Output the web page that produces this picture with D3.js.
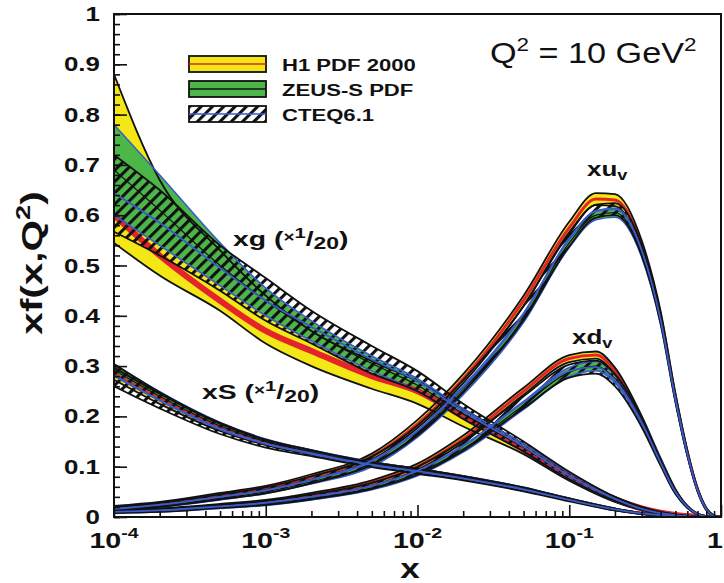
<!DOCTYPE html>
<meta charset="utf-8">
<script src="https://d3js.org/d3.v7.min.js"></script>
<style>
  body { margin: 0; background: #fff; }
  text { font-family: "Liberation Sans", Arial, sans-serif; font-weight: bold; fill: #111; }
</style>
<div id="chart"></div>
<script>
    // x grids (log x)
    var xLow = [1e-4, 2e-4, 5e-4, 1e-3, 2e-3, 5e-3, 1e-2, 2e-2, 5e-2, 0.1, 0.2, 0.3, 0.5, 0.7];
    var xVal = [1e-4, 2e-4, 5e-4, 1e-3, 2e-3, 5e-3, 1e-2, 2e-2, 5e-2, 0.1, 0.15, 0.2, 0.3, 0.4, 0.5, 0.6, 0.7, 0.8, 0.9, 1];

    // gluon xg/20 : lower, central, upper
    var gH1Lo   = [0.545, 0.48, 0.41, 0.345, 0.30, 0.255, 0.225, 0.18, 0.125, 0.072, 0.03, 0.014, 0.003, 0];
    var gH1Mid  = [0.60, 0.52, 0.43, 0.37, 0.33, 0.28, 0.25, 0.20, 0.135, 0.08, 0.035, 0.017, 0.004, 0.0005];
    var gH1Hi   = [0.88, 0.67, 0.53, 0.44, 0.37, 0.31, 0.27, 0.215, 0.145, 0.088, 0.04, 0.02, 0.005, 0.001];
    var gZeusLo  = [0.60, 0.54, 0.46, 0.40, 0.35, 0.29, 0.25, 0.195, 0.13, 0.076, 0.032, 0.014, 0.003, 0];
    var gZeusMid = [0.69, 0.61, 0.50, 0.43, 0.37, 0.305, 0.262, 0.205, 0.138, 0.082, 0.035, 0.016, 0.0035, 0];
    var gZeusHi  = [0.78, 0.68, 0.545, 0.455, 0.39, 0.32, 0.275, 0.215, 0.145, 0.088, 0.038, 0.018, 0.004, 0];
    var gCteqLo  = [0.567, 0.52, 0.45, 0.39, 0.345, 0.285, 0.25, 0.195, 0.13, 0.075, 0.032, 0.014, 0.003, 0];
    var gCteqMid = [0.644, 0.585, 0.495, 0.43, 0.378, 0.313, 0.27, 0.21, 0.14, 0.082, 0.036, 0.016, 0.0035, 0];
    var gCteqHi  = [0.72, 0.65, 0.54, 0.475, 0.41, 0.34, 0.29, 0.225, 0.15, 0.09, 0.04, 0.019, 0.004, 0];

    // sea xS/20 : central and error
    var sH1Mid   = [0.285, 0.235, 0.178, 0.148, 0.128, 0.105, 0.092, 0.078, 0.055, 0.035, 0.015, 0.007, 0.002, 0];
    var sH1Err   = [0.012, 0.01, 0.007, 0.005, 0.004, 0.004, 0.004, 0.003, 0.003, 0.002, 0.002, 0.001, 0.001, 0];
    var sZeusMid = [0.292, 0.24, 0.181, 0.15, 0.129, 0.106, 0.093, 0.079, 0.056, 0.035, 0.015, 0.007, 0.002, 0];
    var sZeusErr = [0.012, 0.009, 0.007, 0.005, 0.004, 0.004, 0.003, 0.003, 0.003, 0.002, 0.002, 0.001, 0.001, 0];
    var sCteqMid = [0.282, 0.232, 0.176, 0.146, 0.127, 0.104, 0.091, 0.077, 0.055, 0.034, 0.015, 0.007, 0.002, 0];
    var sCteqErr = [0.022, 0.016, 0.011, 0.008, 0.006, 0.005, 0.005, 0.004, 0.004, 0.003, 0.002, 0.001, 0.001, 0];

    // u valence
    var uH1Mid   = [0.019, 0.027, 0.044, 0.058, 0.08, 0.12, 0.185, 0.275, 0.43, 0.575, 0.632, 0.63, 0.54, 0.4, 0.24, 0.128, 0.055, 0.016, 0.002, 0];
    var uH1Err   = [0.003, 0.003, 0.004, 0.004, 0.005, 0.006, 0.008, 0.009, 0.01, 0.012, 0.012, 0.012, 0.01, 0.009, 0.007, 0.005, 0.003, 0.002, 0.001, 0];
    var uZeusMid = [0.015, 0.022, 0.037, 0.05, 0.07, 0.105, 0.165, 0.25, 0.395, 0.545, 0.6, 0.605, 0.525, 0.39, 0.235, 0.125, 0.054, 0.016, 0.002, 0];
    var uZeusErr = [0.002, 0.002, 0.003, 0.003, 0.004, 0.005, 0.006, 0.007, 0.008, 0.009, 0.009, 0.009, 0.008, 0.007, 0.006, 0.004, 0.003, 0.002, 0.001, 0];
    var uCteqMid = [0.016, 0.024, 0.04, 0.053, 0.074, 0.112, 0.172, 0.26, 0.405, 0.552, 0.608, 0.612, 0.53, 0.392, 0.236, 0.126, 0.054, 0.016, 0.002, 0];
    var uCteqErr = [0.003, 0.004, 0.005, 0.006, 0.007, 0.008, 0.01, 0.012, 0.014, 0.014, 0.013, 0.012, 0.01, 0.008, 0.006, 0.004, 0.003, 0.002, 0.001, 0];

    // d valence
    var dH1Mid   = [0.011, 0.015, 0.023, 0.031, 0.044, 0.068, 0.1, 0.155, 0.25, 0.315, 0.322, 0.29, 0.195, 0.112, 0.052, 0.02, 0.006, 0.001, 0, 0];
    var dH1Err   = [0.002, 0.002, 0.003, 0.003, 0.004, 0.005, 0.006, 0.007, 0.007, 0.007, 0.007, 0.007, 0.006, 0.005, 0.004, 0.002, 0.001, 0.001, 0, 0];
    var dZeusMid = [0.009, 0.012, 0.019, 0.026, 0.037, 0.058, 0.087, 0.135, 0.222, 0.288, 0.3, 0.275, 0.19, 0.11, 0.05, 0.02, 0.006, 0.001, 0, 0];
    var dZeusErr = [0.002, 0.002, 0.002, 0.003, 0.003, 0.004, 0.005, 0.006, 0.008, 0.009, 0.009, 0.008, 0.006, 0.005, 0.003, 0.002, 0.001, 0.001, 0, 0];
    var dCteqMid = [0.01, 0.013, 0.021, 0.028, 0.04, 0.062, 0.092, 0.142, 0.228, 0.29, 0.298, 0.272, 0.188, 0.108, 0.05, 0.02, 0.006, 0.001, 0, 0];
    var dCteqErr = [0.002, 0.003, 0.003, 0.004, 0.005, 0.006, 0.008, 0.01, 0.012, 0.013, 0.013, 0.012, 0.009, 0.006, 0.004, 0.002, 0.001, 0.001, 0, 0];

    var yTicks = [0, 0.1, 0.2, 0.3, 0.4, 0.5, 0.6, 0.7, 0.8, 0.9, 1];
    var yTickLabels = ["0", "0.1", "0.2", "0.3", "0.4", "0.5", "0.6", "0.7", "0.8", "0.9", "1"];
    var xTicks = [1e-4, 1e-3, 1e-2, 1e-1, 1];
    var xTickExp = ["-4", "-3", "-2", "-1", ""];
    var legendNames = ["H1 PDF 2000", "ZEUS-S PDF", "CTEQ6.1"];

    var width = 724, height = 583;
    var plot = {left: 114, right: 721, top: 14, bottom: 517};

    var x = d3.scaleLog().domain([1e-4, 1]).range([plot.left, plot.right]);
    var y = d3.scaleLinear().domain([0, 1]).range([plot.bottom, plot.top]);

    var svg = d3.select("#chart").append("svg")
        .attr("width", width)
        .attr("height", height);

    svg.append("rect").attr("width", width).attr("height", height).attr("fill", "white");

    var defs = svg.append("defs");
    defs.append("clipPath").attr("id", "clip").append("rect")
        .attr("x", plot.left).attr("y", plot.top)
        .attr("width", plot.right - plot.left).attr("height", plot.bottom - plot.top);

    var hatch = defs.append("pattern")
        .attr("id", "hatch")
        .attr("patternUnits", "userSpaceOnUse")
        .attr("width", 8).attr("height", 8)
        .attr("patternTransform", "rotate(45)");
    hatch.append("line")
        .attr("x1", 1.5).attr("y1", 0).attr("x2", 1.5).attr("y2", 8)
        .attr("stroke", "#111").attr("stroke-width", 3.2);

    var colors = {yellow: "#f3e816", green: "#4cb748", red: "#e5232a", blue: "#3a5cc8"};

    function band(xs, lo, mid, hi) {
        return xs.map(function(v, i) { return {x: v, lo: lo[i], mid: mid[i], hi: hi[i]}; });
    }
    function bandErr(xs, mid, err) {
        return xs.map(function(v, i) { return {x: v, lo: Math.max(0, mid[i] - err[i]), mid: mid[i], hi: mid[i] + err[i]}; });
    }

    var h1 = [
        {data: band(xLow, gH1Lo, gH1Mid, gH1Hi), w: 6},
        {data: bandErr(xLow, sH1Mid, sH1Err), w: 3},
        {data: bandErr(xVal, uH1Mid, uH1Err), w: 3},
        {data: bandErr(xVal, dH1Mid, dH1Err), w: 3}
    ];
    var zeus = [
        {data: band(xLow, gZeusLo, gZeusMid, gZeusHi)},
        {data: bandErr(xLow, sZeusMid, sZeusErr)},
        {data: bandErr(xVal, uZeusMid, uZeusErr)},
        {data: bandErr(xVal, dZeusMid, dZeusErr)}
    ];
    var cteq = [
        {data: band(xLow, gCteqLo, gCteqMid, gCteqHi)},
        {data: bandErr(xLow, sCteqMid, sCteqErr)},
        {data: bandErr(xVal, uCteqMid, uCteqErr)},
        {data: bandErr(xVal, dCteqMid, dCteqErr)}
    ];

    var area = d3.area()
        .x(function(d) { return x(d.x); })
        .y0(function(d) { return y(d.lo); })
        .y1(function(d) { return y(d.hi); })
        .curve(d3.curveMonotoneX);
    function lineOf(key) {
        return d3.line()
            .x(function(d) { return x(d.x); })
            .y(function(d) { return y(d[key]); })
            .curve(d3.curveMonotoneX);
    }

    var g = svg.append("g").attr("clip-path", "url(#clip)");

    // fills
    g.selectAll(".h1fill").data(h1).enter().append("path")
        .attr("d", function(b) { return area(b.data); })
        .attr("fill", colors.yellow);
    g.selectAll(".zfill").data(zeus).enter().append("path")
        .attr("d", function(b) { return area(b.data); })
        .attr("fill", colors.green);
    g.selectAll(".h1mid").data(h1).enter().append("path")
        .attr("d", function(b) { return lineOf("mid")(b.data); })
        .attr("fill", "none").attr("stroke", colors.red).attr("stroke-width", function(b) { return b.w; });
    g.selectAll(".cfill").data(cteq).enter().append("path")
        .attr("d", function(b) { return area(b.data); })
        .attr("fill", "url(#hatch)");

    // edges
    ["lo", "hi"].forEach(function(k) {
        g.selectAll(null).data(h1).enter().append("path")
            .attr("d", function(b) { return lineOf(k)(b.data); })
            .attr("fill", "none").attr("stroke", "#111").attr("stroke-width", 1.8);
        g.selectAll(null).data(zeus).enter().append("path")
            .attr("d", function(b) { return lineOf(k)(b.data); })
            .attr("fill", "none").attr("stroke", colors.blue).attr("stroke-width", 1.6);
        g.selectAll(null).data(cteq).enter().append("path")
            .attr("d", function(b) { return lineOf(k)(b.data); })
            .attr("fill", "none").attr("stroke", "#111").attr("stroke-width", 1.8);
    });
    g.selectAll(null).data(zeus).enter().append("path")
        .attr("d", function(b) { return lineOf("mid")(b.data); })
        .attr("fill", "none").attr("stroke", "#111").attr("stroke-width", 1.2);
    g.selectAll(null).data(cteq).enter().append("path")
        .attr("d", function(b) { return lineOf("mid")(b.data); })
        .attr("fill", "none").attr("stroke", colors.blue).attr("stroke-width", 1.8);

    // axes (ticks inside)
    var yMinor = d3.range(0, 1.001, 0.02);
    svg.append("g").attr("transform", "translate(" + plot.left + ",0)")
        .call(d3.axisLeft(y).tickValues(yMinor).tickSize(-6).tickFormat(""));
    svg.append("g").attr("transform", "translate(" + plot.left + ",0)")
        .call(d3.axisLeft(y).tickValues(yTicks).tickSize(-13).tickFormat(""));

    var xMinor = [];
    for (var e = -4; e < 0; e++) for (var m = 2; m < 10; m++) xMinor.push(m * Math.pow(10, e));
    svg.append("g").attr("transform", "translate(0," + plot.bottom + ")")
        .call(d3.axisBottom(x).tickValues(xMinor).tickSize(-6).tickFormat(""));
    svg.append("g").attr("transform", "translate(0," + plot.bottom + ")")
        .call(d3.axisBottom(x).tickValues(xTicks).tickSize(-12).tickFormat(""));
    svg.selectAll(".domain").remove();
    svg.selectAll(".tick line").attr("stroke", "#111").attr("stroke-width", 1.6);

    svg.append("rect")
        .attr("x", plot.left).attr("y", plot.top)
        .attr("width", plot.right - plot.left).attr("height", plot.bottom - plot.top)
        .attr("fill", "none").attr("stroke", "#111").attr("stroke-width", 2);

    function place(sel, px, py, sx) {
        return sel.attr("transform", "translate(" + px + "," + py + ") scale(" + sx + ",1)");
    }

    // y tick labels
    yTicks.forEach(function(t, i) {
        place(svg.append("text"), 100, y(t) + 7, 1.33)
            .attr("text-anchor", "end").attr("font-size", 19.5).text(yTickLabels[i]);
    });

    // x tick labels
    xTicks.forEach(function(t, i) {
        var tx = place(svg.append("text"), i === 4 ? 723 : x(t), 548, 1.3)
            .attr("text-anchor", i === 4 ? "end" : "middle").attr("font-size", 22);
        tx.append("tspan").text(i === 4 ? "1" : "10");
        if (xTickExp[i]) tx.append("tspan").attr("font-size", 15).attr("dy", -10).text(xTickExp[i]);
    });

    // axis titles
    place(svg.append("text"), 410, 578, 1.3).attr("text-anchor", "middle").attr("font-size", 27).text("x");
    var yl = svg.append("text").attr("transform", "translate(42,263) rotate(-90) scale(1.35,1)")
        .attr("text-anchor", "middle").attr("font-size", 30);
    yl.append("tspan").text("xf(x,Q");
    yl.append("tspan").attr("font-size", 20).attr("dy", -12).text("2");
    yl.append("tspan").attr("dy", 12).text(")");

    // Q2 annotation
    var q = place(svg.append("text"), 490, 63, 1.18).attr("font-size", 29).style("font-weight", "normal");
    q.append("tspan").text("Q");
    q.append("tspan").attr("font-size", 19).attr("dy", -12).text("2");
    q.append("tspan").attr("dy", 12).text(" = 10 GeV");
    q.append("tspan").attr("font-size", 19).attr("dy", -12).text("2");

    // curve labels
    function fracLabel(px, py, main) {
        var t = place(svg.append("text"), px, py, 1.35).attr("font-size", 21);
        t.append("tspan").text(main + " (");
        t.append("tspan").attr("font-size", 14).attr("dy", -4).text("\u00d7");
        t.append("tspan").attr("font-size", 15).attr("dy", -4).text("1");
        t.append("tspan").attr("font-size", 21).attr("dy", 8).text("/");
        t.append("tspan").attr("font-size", 17).attr("dy", 3).text("20");
        t.append("tspan").attr("font-size", 21).attr("dy", -3).text(")");
    }
    fracLabel(233, 246, "xg");
    fracLabel(202, 399, "xS");

    var ul = place(svg.append("text"), 587, 176, 1.3).attr("font-size", 20);
    ul.append("tspan").text("xu");
    ul.append("tspan").attr("font-size", 14).attr("dy", 4).text("v");
    var dl = place(svg.append("text"), 572, 344, 1.3).attr("font-size", 20);
    dl.append("tspan").text("xd");
    dl.append("tspan").attr("font-size", 14).attr("dy", 4).text("v");

    // legend
    var legendY = [56, 81, 106];
    var lg = svg.append("g");
    lg.append("rect").attr("x", 189).attr("y", legendY[0]).attr("width", 77).attr("height", 16)
        .attr("fill", colors.yellow).attr("stroke", "#111").attr("stroke-width", 1.8);
    lg.append("line").attr("x1", 189).attr("x2", 266).attr("y1", legendY[0] + 8).attr("y2", legendY[0] + 8)
        .attr("stroke", colors.red).attr("stroke-width", 1.5);
    lg.append("rect").attr("x", 189).attr("y", legendY[1]).attr("width", 77).attr("height", 16)
        .attr("fill", colors.green).attr("stroke", "#111").attr("stroke-width", 1.8);
    lg.append("line").attr("x1", 189).attr("x2", 266).attr("y1", legendY[1] + 8).attr("y2", legendY[1] + 8)
        .attr("stroke", "#111").attr("stroke-width", 1.5);
    lg.append("rect").attr("x", 189).attr("y", legendY[2]).attr("width", 77).attr("height", 16)
        .attr("fill", "url(#hatch)").attr("stroke", "#111").attr("stroke-width", 1.8);
    lg.append("line").attr("x1", 189).attr("x2", 266).attr("y1", legendY[2] + 8).attr("y2", legendY[2] + 8)
        .attr("stroke", colors.blue).attr("stroke-width", 1.5);
    legendNames.forEach(function(n, i) {
        place(lg.append("text"), 282, legendY[i] + 15, 1.3).attr("font-size", 17).text(n);
    });
</script>
